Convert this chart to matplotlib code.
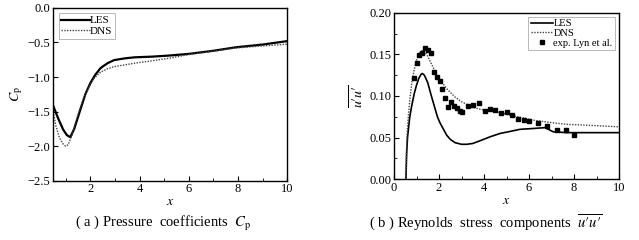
import matplotlib
matplotlib.use("Agg")
import matplotlib.pyplot as plt
from matplotlib.ticker import MultipleLocator, FormatStrFormatter

plt.rcParams['font.family'] = ['Liberation Serif', 'DejaVu Serif']
plt.rcParams['mathtext.fontset'] = 'stix'
plt.rcParams['xtick.direction'] = 'in'
plt.rcParams['ytick.direction'] = 'in'

# (a) pressure coefficient
cp_les_x = [0.5, 0.7, 0.9, 1.05, 1.19, 1.35, 1.6, 1.8, 2.0, 2.2, 2.42, 2.7, 2.97,
            3.4, 3.79, 4.5, 5.17, 6.0, 7.0, 7.9, 9.0, 10.0]
cp_les = [-1.42, -1.6, -1.76, -1.84, -1.87, -1.75, -1.47, -1.25, -1.09, -0.97, -0.87,
          -0.80, -0.755, -0.73, -0.715, -0.705, -0.69, -0.665, -0.62, -0.57, -0.53, -0.48]
cp_dns_x = [0.5, 0.6, 0.75, 0.9, 1.0, 1.1, 1.25, 1.45, 1.7, 2.0, 2.15, 2.42, 2.7,
            2.97, 3.79, 4.5, 5.17, 6.0, 7.0, 7.9, 9.0, 10.0]
cp_dns = [-1.5, -1.7, -1.88, -1.97, -2.0, -1.98, -1.85, -1.6, -1.33, -1.11, -1.02,
          -0.93, -0.88, -0.85, -0.80, -0.765, -0.73, -0.675, -0.625, -0.58, -0.55, -0.525]

# (b) reynolds stress u'u'
uu_les_x = [0.53, 0.56, 0.6, 0.7, 0.8, 0.9, 1.0, 1.1, 1.2, 1.26, 1.35, 1.5, 1.63, 1.8,
            1.93, 2.04, 2.2, 2.34, 2.5, 2.71, 3.0, 3.23, 3.5, 3.8, 4.27, 4.71, 5.08,
            5.6, 6.2, 6.71, 7.08, 7.67, 8.5, 10.0]
uu_les = [0.0, 0.03, 0.05, 0.075, 0.09, 0.103, 0.113, 0.121, 0.126, 0.127, 0.125, 0.116,
          0.103, 0.087, 0.075, 0.068, 0.06, 0.053, 0.048, 0.044, 0.042, 0.042, 0.043,
          0.046, 0.051, 0.055, 0.057, 0.060, 0.061, 0.062, 0.057, 0.056, 0.056, 0.056]
uu_dns_x = [0.53, 0.56, 0.6, 0.7, 0.8, 0.9, 1.0, 1.1, 1.2, 1.3, 1.45, 1.6, 1.8, 2.0,
            2.37, 2.7, 3.0, 3.56, 4.0, 4.71, 5.5, 6.19, 7.0, 7.67, 8.5, 10.0]
uu_dns = [0.0, 0.04, 0.063, 0.095, 0.118, 0.132, 0.143, 0.150, 0.154, 0.155, 0.150,
          0.142, 0.131, 0.121, 0.108, 0.099, 0.093, 0.086, 0.083, 0.080, 0.075, 0.071,
          0.068, 0.066, 0.065, 0.063]
exp_x = [0.89, 1.01, 1.11, 1.24, 1.38, 1.51, 1.63, 1.78, 1.90, 2.03, 2.15, 2.27, 2.4,
         2.55, 2.67, 2.79, 2.92, 3.04, 3.29, 3.52, 3.78, 4.03, 4.27, 4.5, 4.77, 5.02,
         5.26, 5.51, 5.76, 6.01, 6.41, 6.81, 7.23, 7.63, 8.01]
exp_uu = [0.122, 0.140, 0.149, 0.152, 0.158, 0.155, 0.152, 0.129, 0.123, 0.118, 0.108,
          0.098, 0.087, 0.093, 0.088, 0.085, 0.082, 0.081, 0.088, 0.089, 0.092, 0.082,
          0.084, 0.083, 0.079, 0.081, 0.077, 0.072, 0.0716, 0.0696, 0.068, 0.064, 0.059,
          0.059, 0.053]

uu_label = "$\\overline{u\u2032u\u2032}$"

fig = plt.figure(figsize=(6.39, 2.4), dpi=100)
ax1 = fig.add_axes([0.0834, 0.247, 0.3662, 0.72])
ax2 = fig.add_axes([0.6166, 0.253, 0.3521, 0.694])

ax1.plot(cp_les_x, cp_les, color='black', lw=1.6, label='LES')
ax1.plot(cp_dns_x, cp_dns, color='#444444', lw=1.0, ls=(0, (1, 1)), label='DNS')
ax1.set_xlim(0.5, 10)
ax1.set_ylim(-2.5, 0.0)
ax1.xaxis.set_major_locator(MultipleLocator(2))
ax1.xaxis.set_minor_locator(MultipleLocator(1))
ax1.yaxis.set_major_locator(MultipleLocator(0.5))
ax1.set_xlabel('$x$', fontsize=10, labelpad=0)
ax1.set_ylabel(r'$C_\mathrm{p}$', fontsize=10, labelpad=2)
leg1 = ax1.legend(loc='upper left', fontsize=8, frameon=True, fancybox=False,
                  edgecolor='#999999', handlelength=2.6, handletextpad=0.0,
                  borderpad=0.2, labelspacing=0.1, borderaxespad=0.5)
leg1.get_frame().set_linewidth(0.6)

ax2.plot(uu_les_x, uu_les, color='black', lw=1.2, label='LES')
ax2.plot(uu_dns_x, uu_dns, color='#444444', lw=1.0, ls=(0, (1, 1)), label='DNS')
ax2.plot(exp_x, exp_uu, ls='none', marker='s', ms=3.2, color='black',
         label='exp. Lyn et al.')
ax2.set_xlim(0, 10)
ax2.set_ylim(0, 0.2)
ax2.xaxis.set_major_locator(MultipleLocator(2))
ax2.xaxis.set_minor_locator(MultipleLocator(1))
ax2.yaxis.set_major_locator(MultipleLocator(0.05))
ax2.yaxis.set_minor_locator(MultipleLocator(0.025))
ax2.yaxis.set_major_formatter(FormatStrFormatter('%.2f'))
ax2.set_xlabel('$x$', fontsize=10, labelpad=0)
ax2.set_ylabel(uu_label, fontsize=10, labelpad=2)
leg2 = ax2.legend(loc='upper right', fontsize=7.5, frameon=True, fancybox=False,
                  edgecolor='#999999', handlelength=2.2, handletextpad=0.0,
                  borderpad=0.2, labelspacing=0.05, borderaxespad=0.4)
leg2.get_frame().set_linewidth(0.6)

for ax in (ax1, ax2):
    ax.tick_params(which='both', labelsize=9, top=False, right=False, pad=2)
    ax.tick_params(which='major', length=3.5)
    ax.tick_params(which='minor', length=2)
    for s in ax.spines.values():
        s.set_linewidth(1.0)

fig.text(0.255, 0.07, r'( a ) Pressure  coefficients  $C_\mathrm{p}$', ha='center',
         va='center', fontsize=10.5)
fig.text(0.76, 0.075, "( b ) Reynolds  stress  components  " + uu_label,
         ha='center', va='center', fontsize=10.5)

fig.savefig('out.png', dpi=100)
